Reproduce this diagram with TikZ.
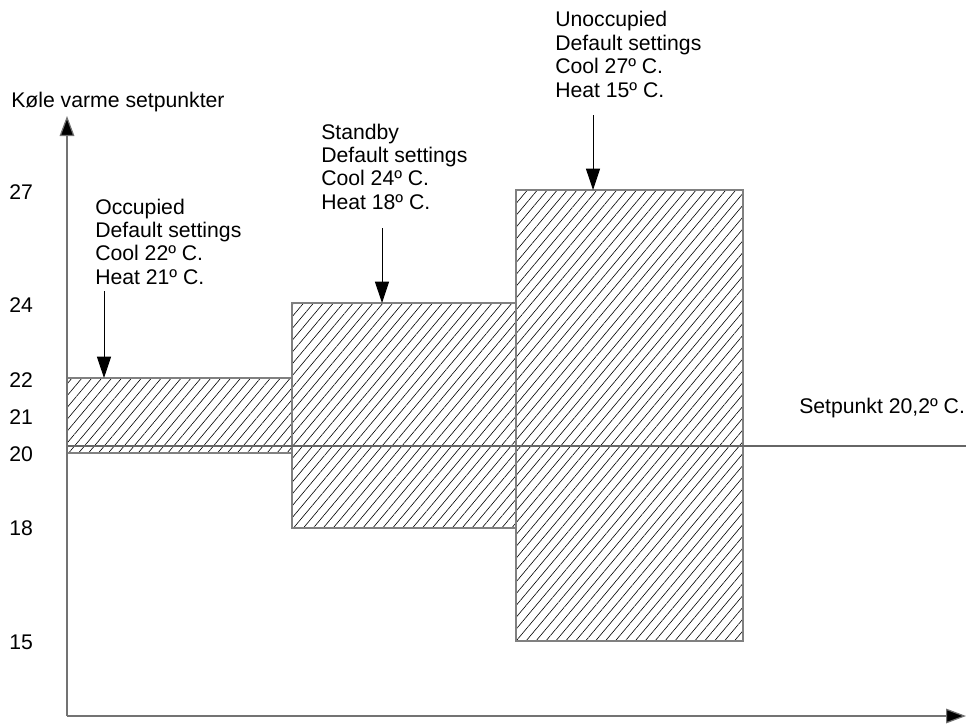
\documentclass[tikz,border=0pt]{standalone}
\usepackage{fontspec}
\setmainfont{Liberation Sans}
\usetikzlibrary{arrows.meta,patterns.meta}
\begin{document}
\begin{tikzpicture}[x=0.75pt,y=-0.75pt,
  lbl/.style={inner sep=0pt,anchor=base west,font=\fontsize{15.9pt}{17.6pt}\selectfont},
  ticklbl/.style={inner sep=0pt,anchor=west,font=\fontsize{15.9pt}{17.6pt}\selectfont},
  hatchbox/.style={draw=black!50,line width=0.9pt,pattern={Lines[angle=50,distance=5.7pt,line width=0.45pt]},pattern color=black},
  axis/.style={draw=black!55,line width=0.9pt,-{Triangle[length=15pt,width=11pt,fill=black]}},
  pointer/.style={draw=black,line width=0.7pt,-{Triangle[length=16pt,width=10.5pt,fill=black]}}]
\useasboundingbox (0,0) rectangle (966,724);
% hatched setpoint ranges
\draw[hatchbox] (67,378) rectangle (292,453);
\draw[hatchbox] (292,303) rectangle (516,528);
\draw[hatchbox] (516,190) rectangle (743,641);
% setpoint line
\coordinate (spL) at (67,446);
\coordinate (spR) at (966,446);
\draw[draw=black!60,line width=0.9pt] (spL) -- (spR);
% axes
\coordinate (origin) at (67,716);
\coordinate (ytip) at (67,116);
\coordinate (xtip) at (966,716);
\draw[axis] (origin) -- (ytip);
\draw[axis] (origin) -- (xtip);
% axis title
\node[lbl] (title) at (11,107) {Køle varme setpunkter};
% tick labels
\node[ticklbl] (t27) at (9,192) {27};
\node[ticklbl] (t24) at (9,305) {24};
\node[ticklbl] (t22) at (9,380) {22};
\node[ticklbl] (t21) at (9,417) {21};
\node[ticklbl] (t20) at (9,454) {20};
\node[ticklbl] (t18) at (9,528) {18};
\node[ticklbl] (t15) at (9,642) {15};
% mode labels
\node[lbl] (occ) at (95,214) {\begin{tabular}[t]{@{}l@{}}Occupied\\Default settings\\Cool 22º C.\\Heat 21º C.\end{tabular}};
\node[lbl] (stb) at (321,139) {\begin{tabular}[t]{@{}l@{}}Standby\\Default settings\\Cool 24º C.\\Heat 18º C.\end{tabular}};
\node[lbl] (uno) at (555,27) {\begin{tabular}[t]{@{}l@{}}Unoccupied\\Default settings\\Cool 27º C.\\Heat 15º C.\end{tabular}};
\node[lbl] (sp) at (799,413) {Setpunkt 20,2º C.};
% pointers
\coordinate (a1s) at (104,291);
\coordinate (a1e) at (104,378);
\coordinate (a2s) at (382,228);
\coordinate (a2e) at (382,303);
\coordinate (a3s) at (593,115);
\coordinate (a3e) at (593,190);
\draw[pointer] (a1s) -- (a1e);
\draw[pointer] (a2s) -- (a2e);
\draw[pointer] (a3s) -- (a3e);
\end{tikzpicture}
\end{document}
